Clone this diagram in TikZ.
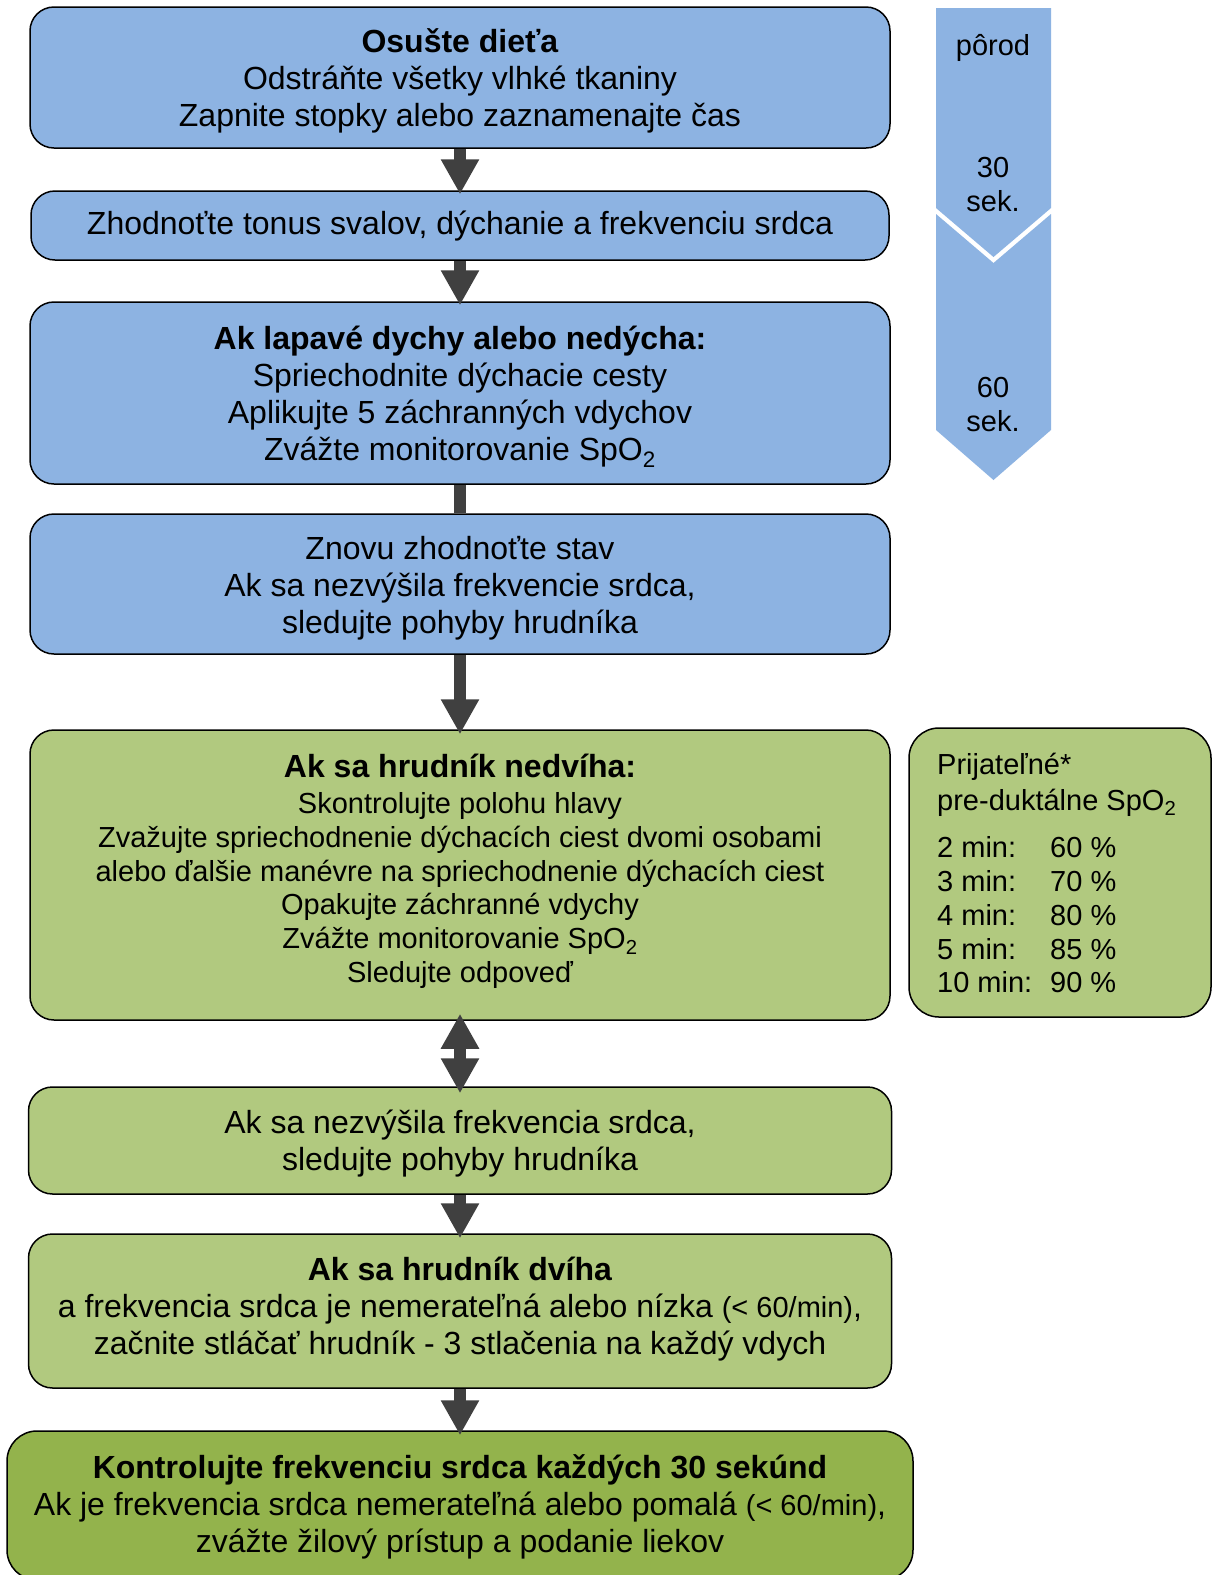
\documentclass[tikz,border=0pt]{standalone}
\usepackage{fontspec}
\setmainfont{Liberation Sans}
\usetikzlibrary{arrows.meta,calc}
\definecolor{stepblue}{HTML}{8DB3E2}
\definecolor{stepgreen}{HTML}{B1C97F}
\definecolor{stepdark}{HTML}{93B34C}
\definecolor{flowgray}{HTML}{404040}
\newcommand{\rateval}{{\fontsize{29}{37}\selectfont(< 60/min)}}
\tikzset{
  box/.style={draw=black, line width=1.5pt, rounded corners=24pt, inner sep=0pt},
  bluebox/.style={box, fill=stepblue},
  greenbox/.style={box, fill=stepgreen},
  darkbox/.style={box, fill=stepdark},
  txt/.style={align=center, inner sep=0pt, font=\fontsize{32}{37}\selectfont},
  smalltxt/.style={align=center, inner sep=0pt, font=\fontsize{29}{33.7}\selectfont},
  flow/.style={draw=flowgray, line width=12.5pt, -{Triangle[width=36pt,length=35pt]}},
  twoway/.style={draw=flowgray, line width=12.5pt,
    {Triangle[width=36pt,length=35pt]}-{Triangle[width=36pt,length=35pt]}},
  bar/.style={draw=flowgray, line width=12.5pt},
  timelabel/.style={align=center, inner sep=0pt, font=\fontsize{29}{34}\selectfont},
  sporow/.style={anchor=base west, inner sep=0pt, font=\fontsize{29}{34}\selectfont},
}
\begin{document}
\begin{tikzpicture}[x=1pt, y=-1pt]
\clip (0,0) rectangle (1213,1575);
\fill[white] (0,0) rectangle (1213,1575);

% time line on the right
\fill[stepblue] (936,8) -- (1051,8) -- (1051,208) -- (993.5,257) -- (936,208) -- cycle;
\fill[stepblue] (936,214) -- (993.5,263) -- (1051,214) -- (1051,430) -- (993.5,480) -- (936,430) -- cycle;
\node[timelabel] (t0)  at (993,48)  {pôrod};
\node[timelabel] (t30) at (993,185) {30\\sek.};
\node[timelabel] (t60) at (993,405) {60\\sek.};

% boxes of the algorithm
\node[bluebox, minimum width=860pt, minimum height=141pt] (b1) at (460,77.5) {};
\node[txt] (b1t) at (460,80.9) {\textbf{Osušte dieťa}\\Odstráňte všetky vlhké tkaniny\\Zapnite stopky alebo zaznamenajte čas};

\node[bluebox, minimum width=858pt, minimum height=69pt] (b2) at (460,225.5) {};
\node[txt] (b2t) at (460,225.6) {Zhodnoťte tonus svalov, dýchanie a frekvenciu srdca};

\node[bluebox, minimum width=860pt, minimum height=182pt] (b3) at (460,393) {};
\node[txt] (b3t) at (460,397) {\textbf{Ak lapavé dychy alebo nedýcha:}\\Spriechodnite dýchacie cesty\\Aplikujte 5 záchranných vdychov\\Zvážte monitorovanie SpO\textsubscript{2}};

\node[bluebox, minimum width=860pt, minimum height=140pt] (b4) at (460,584) {};
\node[txt] (b4t) at (460,588.5) {Znovu zhodnoťte stav\\Ak sa nezvýšila frekvencie srdca,\\sledujte pohyby hrudníka};

\node[greenbox, minimum width=860pt, minimum height=290pt] (b5) at (460,875) {};
\node[smalltxt] (b5t) at (460,871.2) {{\fontsize{32}{37}\selectfont\bfseries Ak sa hrudník nedvíha:}\\[2.4pt]Skontrolujte polohu hlavy\\Zvažujte spriechodnenie dýchacích ciest dvomi osobami\\alebo ďalšie manévre na spriechodnenie dýchacích ciest\\Opakujte záchranné vdychy\\Zvážte monitorovanie SpO\textsubscript{2}\\Sledujte odpoveď};

\node[greenbox, minimum width=302pt, minimum height=289pt, rounded corners=30pt] (spo) at (1060,872.5) {};
\node[sporow] (s1) at (937,774) {Prijateľné*};
\node[sporow] (s2) at (937,810) {pre-duktálne SpO\textsubscript{2}};
\node[sporow] (s3) at (937,857) {\makebox[113pt][l]{2 min:}60 \%};
\node[sporow] (s4) at (937,891) {\makebox[113pt][l]{3 min:}70 \%};
\node[sporow] (s5) at (937,925) {\makebox[113pt][l]{4 min:}80 \%};
\node[sporow] (s6) at (937,959) {\makebox[113pt][l]{5 min:}85 \%};
\node[sporow] (s7) at (937,992) {\makebox[113pt][l]{10 min:}90 \%};

\node[greenbox, minimum width=863pt, minimum height=107pt] (b6) at (460,1140.5) {};
\node[txt] (b6t) at (460,1143.8) {Ak sa nezvýšila frekvencia srdca,\\sledujte pohyby hrudníka};

\node[greenbox, minimum width=863pt, minimum height=154pt] (b7) at (460,1311) {};
\node[txt] (b7t) at (460,1309.5) {\textbf{Ak sa hrudník dvíha}\\a frekvencia srdca je nemerateľná alebo nízka \rateval,\\začnite stláčať hrudník - 3 stlačenia na každý vdych};

\node[darkbox, minimum width=906pt, minimum height=149pt, rounded corners=30pt] (b8) at (460,1505.5) {};
\node[txt] (b8t) at (460,1507.2) {\textbf{Kontrolujte frekvenciu srdca každých 30 sekúnd}\\Ak je frekvencia srdca nemerateľná alebo pomalá \rateval,\\zvážte žilový prístup a podanie liekov};

% connectors
\draw[flow] (b1.south) -- ([yshift=-4pt]b2.north);
\draw[flow] (b2.south) -- ([yshift=-4pt]b3.north);
\draw[bar] (b3.south) -- (b4.north);
\draw[flow] (b4.south) -- ([yshift=-5pt]b5.north);
\draw[twoway] ([yshift=7pt]b5.south) -- ([yshift=-7pt]b6.north);
\draw[flow] (b6.south) -- ([yshift=-5pt]b7.north);
\draw[flow] (b7.south) -- ([yshift=-5pt]b8.north);
\end{tikzpicture}
\end{document}
